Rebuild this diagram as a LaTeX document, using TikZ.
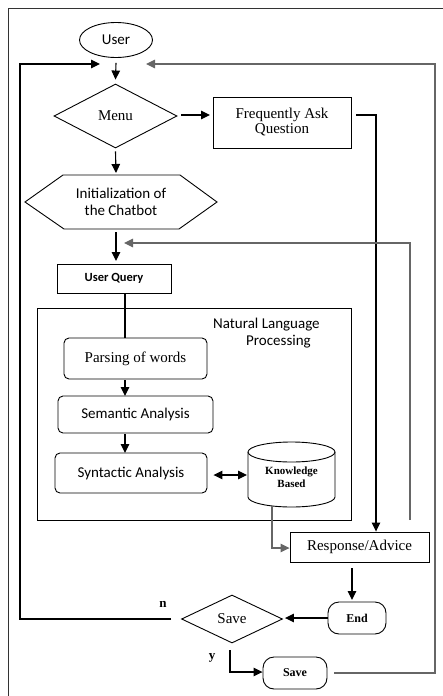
\documentclass[tikz,border=0pt]{standalone}
\usepackage{fontspec}
\setmainfont{Liberation Serif}
\newfontfamily\calfont{Carlito}
\usetikzlibrary{arrows.meta,shapes.geometric,calc}
\tikzset{
  box/.style={draw, line width=0.9pt, inner sep=0pt, align=center},
  rbox/.style={box, rounded corners=5pt},
  pill/.style={box, rounded corners=11pt},
  dia/.style={draw, line width=0.9pt, shape=diamond, inner sep=0pt, align=center},
  arr/.style={line width=1.1pt, -{Triangle[length=9pt,width=8.5pt]}},
  darr/.style={line width=1.1pt, {Triangle[length=9pt,width=8.5pt]}-{Triangle[length=9pt,width=8.5pt]}},
  ln/.style={line width=1.1pt},
  serif15/.style={font=\fontsize{15}{15}\selectfont},
  sans15/.style={font=\calfont\fontsize{15}{17}\selectfont},
}
\begin{document}
\begin{tikzpicture}[x=1pt,y=-1pt]
\useasboundingbox (0,0) rectangle (443,696);
% page frame
\draw[line width=1pt, black!80] (443,8) -- (8,8) -- (8,696);

% nodes
\node[draw, line width=0.9pt, ellipse, minimum width=73pt, minimum height=35pt, inner sep=0pt, sans15] (user) at (116,40) {User};
\node[dia, minimum width=123pt, minimum height=64pt, serif15] (menu) at (115.5,116) {Menu};
\node[box, minimum width=138pt, minimum height=51pt, serif15] (faq) at (282,122.5) {Frequently Ask\\Question};
\draw[line width=0.9pt] (25,202) -- (63,175) -- (180,175) -- (217,202) -- (179,229) -- (64,229) -- cycle;
\node[sans15, align=center, inner sep=0pt] (init) at (121,202) {Initialization of\\the Chatbot};
\coordinate (initS) at (116,229);
\node[box, minimum width=114pt, minimum height=29pt, font=\calfont\bfseries\fontsize{12.5}{13}\selectfont] (uq) at (114,278.5) {User Query};
\draw[line width=0.9pt] (37,308) rectangle (351,520);
\node[sans15, align=left, inner sep=0pt, anchor=north west] (nlp) at (213,318) {Natural Language\\\hspace{2.2em}Processing};
\node[rbox, minimum width=143pt, minimum height=41pt, serif15] (parse) at (135.5,358.5) {Parsing of words};
\node[rbox, minimum width=155pt, minimum height=37pt, sans15] (sem) at (135.5,414.5) {Semantic Analysis};
\node[rbox, minimum width=152pt, minimum height=40pt, sans15] (syn) at (131,473) {Syntactic Analysis};
% cylinder
\draw[line width=0.9pt] (248,452) -- (248,497) arc[start angle=180, end angle=360, x radius=43.5pt, y radius=10pt] -- (335,452);
\draw[line width=0.9pt] (291.5,452) ellipse[x radius=43.5pt, y radius=10pt];
\node[align=center, inner sep=0pt, font=\bfseries\fontsize{11}{12.5}\selectfont] (kb) at (291.5,477) {Knowledge\\Based};
\node[box, minimum width=139pt, minimum height=30pt, serif15] (resp) at (359.5,547) {Response/Advice};
\node[pill, minimum width=58pt, minimum height=32pt, font=\bfseries\fontsize{12}{12}\selectfont] (end) at (357,618) {End};
\node[dia, minimum width=101pt, minimum height=48pt, serif15] (save) at (232,619) {Save};
\node[pill, minimum width=64pt, minimum height=32pt, font=\bfseries\fontsize{12}{12}\selectfont] (savebox) at (295,673) {Save};
\node[font=\bfseries\fontsize{13}{13}\selectfont, inner sep=0pt] (nlab) at (163,604) {n};
\node[font=\bfseries\fontsize{13}{13}\selectfont, inner sep=0pt] (ylab) at (212,658) {y};

% connectors
\coordinate (mE) at (181,115);
\coordinate (fW) at (210,115);
\coordinate (fE) at (356,115);
\draw[arr] ($(user.south)+(0,5)$) -- ($(menu.north)+(0,-4)$);
\draw[arr] ($(save.west)+(-10,0)$) -- (20,619) -- (20,64) -- (100,64);
\draw[arr, draw=black!60] ($(savebox.east)+(7,0)$) -- (435,673) -- (435,64) -- (146,64);
\draw[arr] (mE) -- (fW);
\draw[arr] (fE) -- (376,115) -- (376,|-resp.north);
\draw[arr] ($(menu.south)+(0,3)$) -- (116,173);
\draw[arr] ($(initS)+(0,3)$) -- (116,261);
\draw[arr, draw=black!60] (410,520) -- (410,243) -- (124,243);
\draw[ln] (125,293) -- (125,338);
\draw[arr] (125,380) -- (125,396);
\draw[arr] (125,434) -- (125,453);
\draw[darr] ($(syn.east)+(6,2)$) -- (247,475);
\draw[arr, draw=black!60] (272,506) -- (272,548) -- (resp.west |- 0,548);
\draw[arr] (352,568) -- (352,600);
\draw[arr] (end.west) -- ($(save.east)+(2,-1)$);
\draw[arr] (230,650) -- (230,672) -- (savebox.west |- 0,672);
\end{tikzpicture}
\end{document}
